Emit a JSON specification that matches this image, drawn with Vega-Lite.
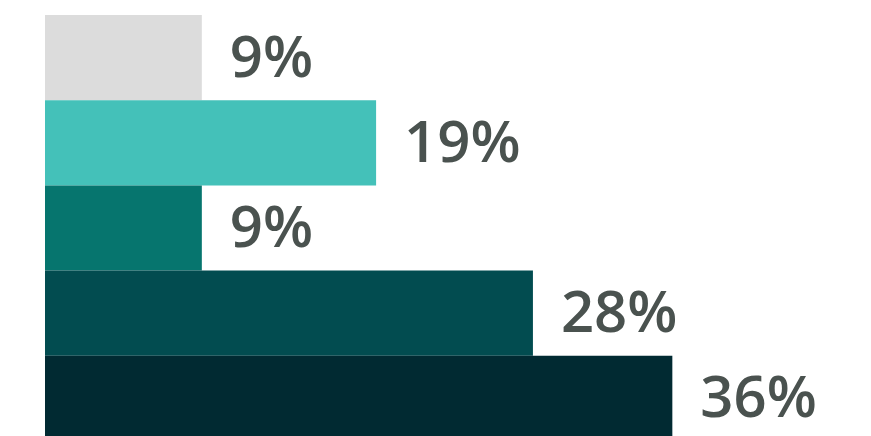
{
  "$schema": "https://vega.github.io/schema/vega-lite/v6.json",
  "width": 826,
  "height": 426,
  "autosize": {"type": "none"},
  "padding": {"left": 45, "top": 15, "right": 0, "bottom": 0},
  "background": "white",
  "config": {"view": {"stroke": null}},
  "data": {
    "values": [
      {"cat": "A", "value": 9, "label": "9%", "color": "#dcdcdc"},
      {"cat": "B", "value": 19, "label": "19%", "color": "#44c1b9"},
      {"cat": "C", "value": 9, "label": "9%", "color": "#06756e"},
      {"cat": "D", "value": 28, "label": "28%", "color": "#024c50"},
      {"cat": "E", "value": 36, "label": "36%", "color": "#012a32"}
    ]
  },
  "encoding": {
    "y": {"field": "cat", "type": "nominal", "sort": null, "axis": null, "scale": {"paddingInner": 0, "paddingOuter": 0}},
    "x": {"field": "value", "type": "quantitative", "axis": null, "scale": {"domain": [0, 47.4]}}
  },
  "layer": [
    {
      "mark": {"type": "bar"},
      "encoding": {"color": {"field": "color", "type": "nominal", "scale": null}}
    },
    {
      "mark": {"type": "text", "align": "left", "baseline": "alphabetic", "dx": 28, "dy": 19, "font": "Open Sans", "fontWeight": 600, "fontSize": 58, "color": "#4a524f"},
      "encoding": {"text": {"field": "label"}}
    }
  ]
}
